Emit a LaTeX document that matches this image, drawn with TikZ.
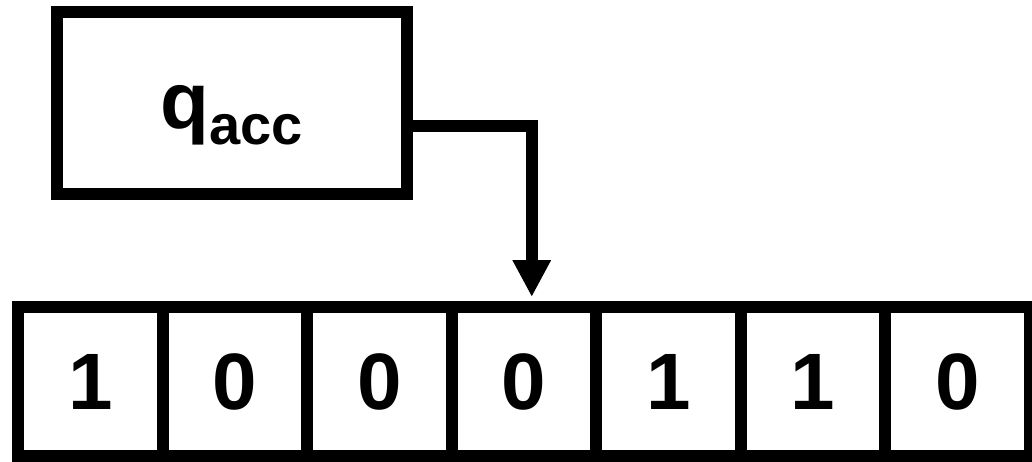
\documentclass[tikz,border=0pt]{standalone}
\usepackage{fontspec}
\setmainfont{Liberation Sans}
\usetikzlibrary{arrows.meta}
\begin{document}
\begin{tikzpicture}[x=1pt,y=-1pt,
  statebox/.style={draw=black,line width=12pt,minimum width=350pt,minimum height=182pt,inner sep=0pt,outer sep=0pt,font=\bfseries},
  cellbox/.style={draw=black,line width=12pt,minimum width=144.5pt,minimum height=149pt,inner sep=0pt,outer sep=0pt,font=\fontsize{80}{86}\selectfont\bfseries},
  headarrow/.style={line width=12pt,-{Triangle[width=36pt,length=37pt]},line join=miter}]
\useasboundingbox (0,0) rectangle (1032,461);
\node[statebox] (q) at (232,103) {\raisebox{-25pt}[0pt][0pt]{\fontsize{80}{86}\selectfont q\raisebox{-16pt}{\fontsize{56}{60}\selectfont acc}}};
\foreach \d [count=\i from 0] in {1,0,0,0,1,1,0} {
  \node[cellbox] (c\i) at (18+72.25+\i*144.5,381.5) {\d};
}
\coordinate (head) at ([xshift=8pt,yshift=10pt]c3.north);
\draw[headarrow] ([yshift=-23pt]q.east) -| (head);
\end{tikzpicture}
\end{document}
